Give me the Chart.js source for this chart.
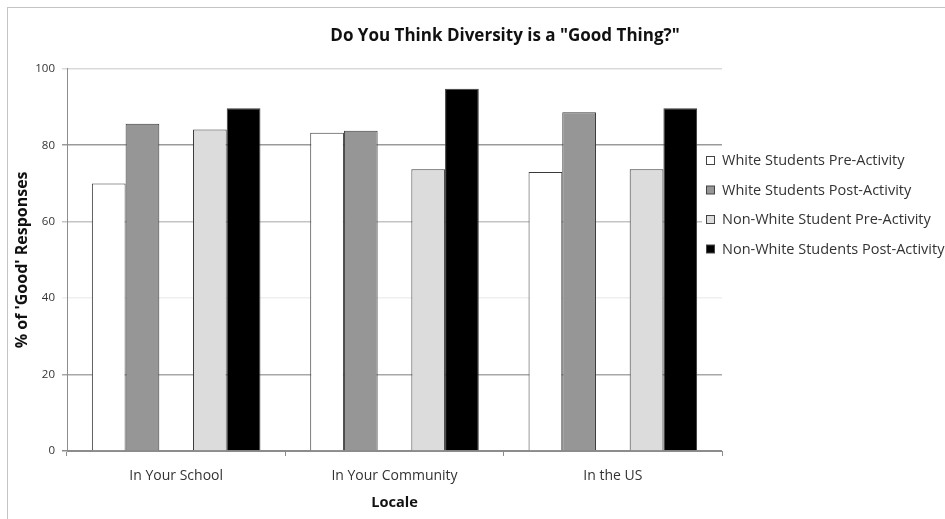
<!DOCTYPE html>
<html>
<head>
<meta charset="utf-8">
<script src="https://cdn.jsdelivr.net/npm/chart.js@4.4.1/dist/chart.umd.min.js"></script>
<style>
  html, body { margin: 0; padding: 0; background: #fff; overflow: hidden; }
  #frame { position: absolute; left: 7px; top: 7px; width: 1000px; height: 520px;
           border-left: 1px solid #c4c4c4; border-top: 1px solid #c4c4c4; }
  #chart { position: absolute; left: 8px; top: 8px; }
</style>
</head>
<body>
<div id="frame"></div>
<canvas id="chart" width="994" height="511"></canvas>
<script>
// data
const locales = ['In Your School', 'In Your Community', 'In the US'];
const seriesNames = [
    'White Students Pre-Activity',
    'White Students Post-Activity',
    'Non-White Student Pre-Activity',
    'Non-White Students Post-Activity'
];
const whitePre = [70, 83.3, 73];
const whitePost = [85.6, 83.8, 88.6];
const nonWhitePre = [84.1, 73.7, 73.7];
const nonWhitePost = [89.7, 94.8, 89.7];
const yTickValues = [0, 20, 40, 60, 80, 100];

const barColors = ['#ffffff', '#969696', '#dcdcdc', '#000000'];
const gridColors = { 0: '#8c8c8c', 20: '#a8a8a8', 40: '#efefef', 60: '#c4c4c4', 80: '#9a9a9a', 100: '#dadada' };

const FONT = "'Open Sans', sans-serif";

const makeSet = (i, data) => ({
    label: seriesNames[i],
    data: data,
    backgroundColor: barColors[i],
    borderColor: '#3a3a3a',
    borderWidth: 1
});

// Excel chart leaves an empty slot between the pre/post pairs
const spacer = { label: '', data: [null, null, null], backgroundColor: 'transparent', borderWidth: 0 };

// legend drawn by hand so it can sit over the right edge of the plot like the original
const sideLegend = {
    id: 'sideLegend',
    afterDraw(chart) {
        const ctx = chart.ctx;
        const items = chart.data.datasets.filter(d => d.label !== '');
        ctx.save();
        ctx.fillStyle = '#ffffff';
        ctx.fillRect(694, 142, 300, 114);
        ctx.font = "14.5px " + FONT;
        ctx.textBaseline = 'middle';
        items.forEach((d, i) => {
            const y = 153 + i * 29.5;
            ctx.fillStyle = d.backgroundColor;
            ctx.fillRect(698.5, y - 4.5, 8, 8);
            ctx.strokeStyle = '#444';
            ctx.lineWidth = 1;
            ctx.strokeRect(698.5, y - 4.5, 8, 8);
            ctx.fillStyle = '#333';
            ctx.fillText(d.label, 714, y);
        });
        ctx.restore();
    }
};

new Chart(document.getElementById('chart'), {
    type: 'bar',
    data: {
        labels: locales,
        datasets: [
            makeSet(0, whitePre),
            makeSet(1, whitePost),
            spacer,
            makeSet(2, nonWhitePre),
            makeSet(3, nonWhitePost)
        ]
    },
    options: {
        responsive: false,
        animation: false,
        devicePixelRatio: 1,
        categoryPercentage: 0.772,
        barPercentage: 1,
        layout: { padding: 0 },
        plugins: {
            legend: { display: false },
            tooltip: { enabled: false },
            title: {
                display: true,
                text: 'Do You Think Diversity is a "Good Thing?"',
                color: '#111',
                font: { family: FONT, size: 17, weight: 'bold' },
                padding: { top: 17.8, bottom: 22.6 }
            }
        },
        scales: {
            x: {
                grid: { drawOnChartArea: false, drawTicks: true, tickLength: 5, color: '#8c8c8c' },
                border: { color: '#8c8c8c' },
                ticks: { color: '#333', padding: 11.6, font: { family: FONT, size: 14 } },
                title: {
                    display: true,
                    text: 'Locale',
                    color: '#111',
                    font: { family: FONT, size: 14.6, weight: 'bold' },
                    padding: { top: 0, bottom: 7.2 }
                },
                afterFit: (scale) => { scale.height = 68; }
            },
            y: {
                min: 0,
                max: 100,
                afterBuildTicks: (scale) => { scale.ticks = yTickValues.map(v => ({ value: v })); },
                grid: {
                    tickLength: 5,
                    lineWidth: 1.5,
                    color: (c) => gridColors[c.tick ? c.tick.value : 0] || '#bbb'
                },
                border: { color: '#8c8c8c' },
                ticks: { color: '#333', padding: 7, font: { family: FONT, size: 11.5 } },
                title: {
                    display: true,
                    text: "% of 'Good' Responses",
                    color: '#111',
                    font: { family: FONT, size: 16, weight: 'bold' },
                    padding: { top: 4.4, bottom: 0 }
                },
                afterFit: (scale) => { scale.width = 59; }
            },
            // keeps room on the right for the legend without shifting the centred title
            side: {
                position: 'right',
                display: true,
                grid: { display: false },
                border: { display: false },
                ticks: { display: false },
                afterFit: (scale) => { scale.width = 280; }
            }
        }
    },
    plugins: [sideLegend]
});
</script>
</body>
</html>
